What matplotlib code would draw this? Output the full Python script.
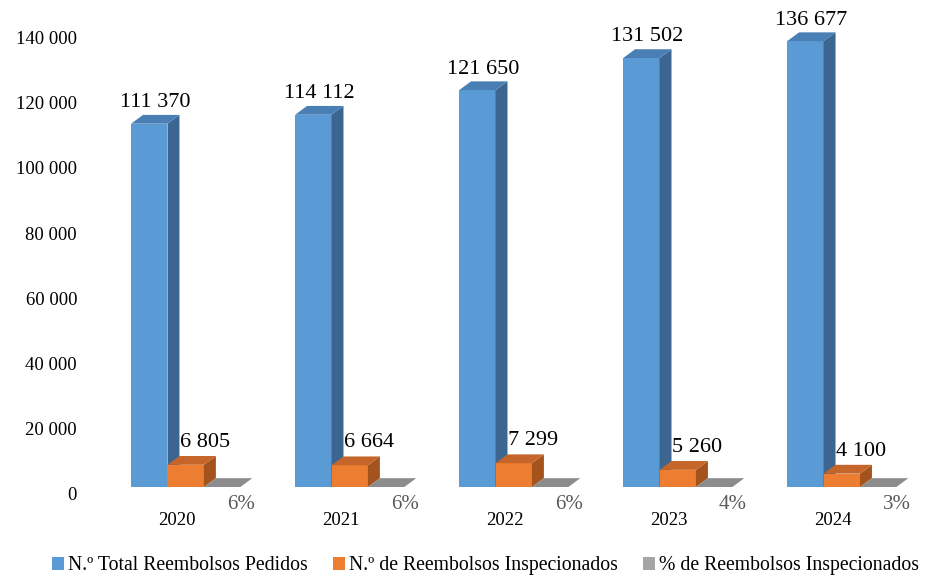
import matplotlib
matplotlib.use("Agg")
import matplotlib.pyplot as plt
from matplotlib.patches import Polygon, Patch
from matplotlib.transforms import ScaledTranslation
import numpy as np

plt.rcParams["font.family"] = ["Liberation Serif", "DejaVu Serif"]

years = ["2020", "2021", "2022", "2023", "2024"]
total_pedidos = [111370, 114112, 121650, 131502, 136677]
inspecionados = [6805, 6664, 7299, 5260, 4100]
pct_inspecionados = [6, 6, 6, 4, 3]

labels_series = [
    "N.º Total Reembolsos Pedidos",
    "N.º de Reembolsos Inspecionados",
    "% de Reembolsos Inspecionados",
]

# front / side / top colours for the pseudo-3D columns
colors = [
    ("#5B9BD5", "#3C6690", "#4A7FB6"),
    ("#ED7D31", "#A4531C", "#C6652A"),
    ("#A5A5A5", "#7A7A7A", "#8C8C8C"),
]


def fmt(v):
    return f"{v:,.0f}".replace(",", " ")


fig = plt.figure(figsize=(9.3, 5.78), dpi=100)
ax = fig.add_axes([100 / 930, 91 / 578, 830 / 930, 473 / 578])
ax.set_xlim(-0.4695, 4.591)
ax.set_ylim(0, 145000)

w = 0.222
start = -0.28
dx = 0.073      # depth offset, x
dy = 2700       # depth offset, y

x = np.arange(len(years))
series = [total_pedidos, inspecionados, [p / 100 for p in pct_inspecionados]]

for i in range(len(years)):
    for k, vals in enumerate(series):
        left = x[i] + start + k * w
        right = left + w
        h = vals[i]
        front, side, top = colors[k]
        ax.bar(left, h, width=w, align="edge", color=front, zorder=2 + k)
        ax.add_patch(Polygon([(right, 0), (right, h), (right + dx, h + dy), (right + dx, dy)],
                             closed=True, facecolor=side, edgecolor="none", zorder=2 + k))
        ax.add_patch(Polygon([(left, h), (right, h), (right + dx, h + dy), (left + dx, h + dy)],
                             closed=True, facecolor=top, edgecolor="none", zorder=2 + k))

    # value labels
    bl = x[i] + start
    ax.annotate(fmt(total_pedidos[i]), (bl + w / 2 + dx / 2, total_pedidos[i] + dy),
                xytext=(0, 2), textcoords="offset points", ha="center", va="bottom",
                fontsize=16, color="black", zorder=10)
    ol = x[i] + start + w
    ax.annotate(fmt(inspecionados[i]), (ol + w / 2 + dx / 2 + 0.08, inspecionados[i] + dy),
                xytext=(0, 3), textcoords="offset points", ha="center", va="bottom",
                fontsize=16, color="black", zorder=10)
    gl = x[i] + start + 2 * w
    ax.annotate(f"{pct_inspecionados[i]}%", (gl + w / 2 + 0.115, 0),
                xytext=(0, -6), textcoords="offset points", ha="center", va="top",
                fontsize=15, color="#595959", zorder=10)

ax.set_xticks(x)
ax.set_xticklabels(years, fontsize=13.5)
ax.set_yticks(np.arange(0, 140001, 20000))
ax.set_yticklabels([fmt(v) for v in range(0, 140001, 20000)], fontsize=13.5)
ax.tick_params(axis="x", length=0, pad=18)
ax.tick_params(axis="y", length=0, pad=16.5)
for lab in ax.get_yticklabels():
    lab.set_transform(lab.get_transform() + ScaledTranslation(0, -0.07, fig.dpi_scale_trans))

for s in ax.spines.values():
    s.set_visible(False)

handles = [Patch(facecolor=c[0], edgecolor="none") for c in colors]
fig.legend(handles, labels_series, loc="center", bbox_to_anchor=(0.522, 0.021),
           ncol=3, frameon=False, fontsize=14.2, handlelength=0.6, handleheight=0.6,
           handletextpad=0.2, columnspacing=1.3)

fig.savefig("out.png", dpi=100)
